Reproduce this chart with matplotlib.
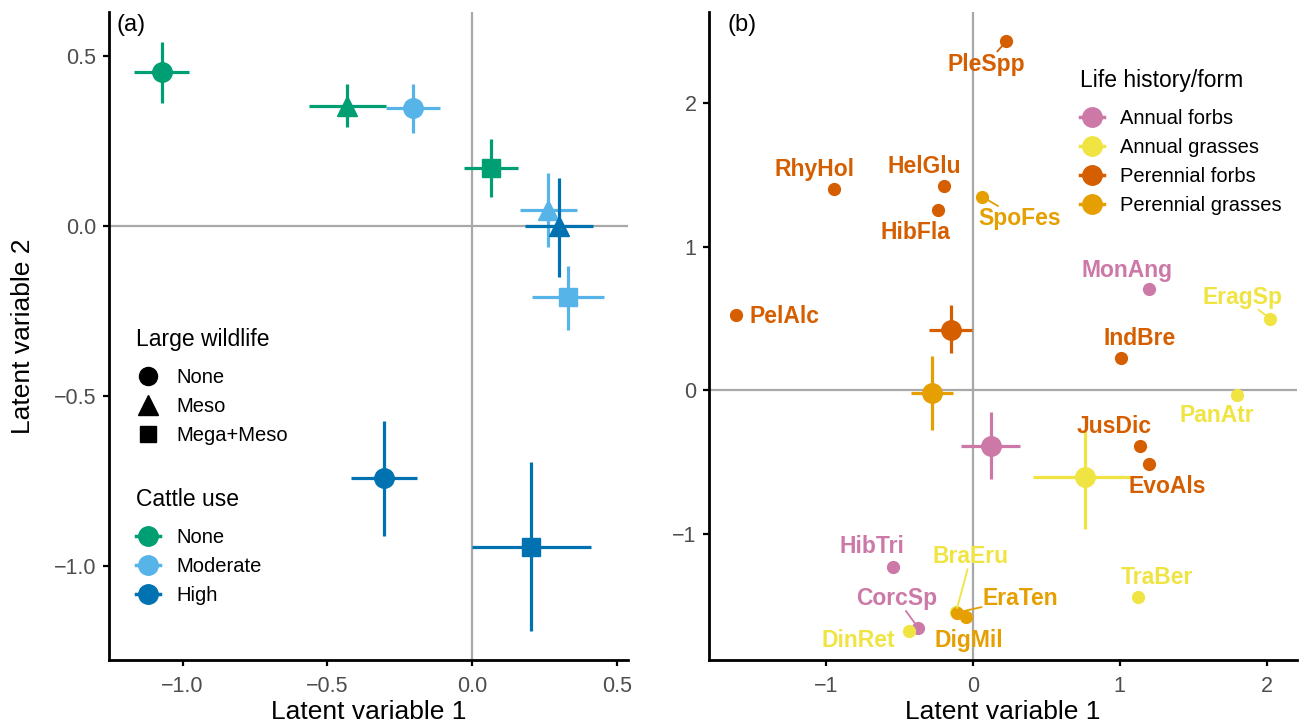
import matplotlib.pyplot as plt
from matplotlib.lines import Line2D

plt.rcParams['font.family'] = ['Liberation Sans', 'DejaVu Sans']

# ---- panel (a): treatment means on the two latent variables ----
wildlife = ['None', 'Meso', 'None', 'Mega+Meso', 'Meso', 'Meso', 'Mega+Meso', 'None', 'Mega+Meso']
cattle = ['None', 'None', 'Moderate', 'None', 'Moderate', 'High', 'Moderate', 'High', 'High']
lv1 = [-1.072, -0.431, -0.204, 0.064, 0.262, 0.299, 0.330, -0.305, 0.202]
lv1_lo = [-1.169, -0.565, -0.297, -0.029, 0.163, 0.183, 0.206, -0.419, 0.000]
lv1_hi = [-0.977, -0.297, -0.111, 0.157, 0.361, 0.417, 0.455, -0.190, 0.408]
lv2 = [0.455, 0.355, 0.348, 0.172, 0.047, 0.000, -0.210, -0.743, -0.944]
lv2_lo = [0.362, 0.293, 0.276, 0.085, -0.062, -0.151, -0.307, -0.912, -1.192]
lv2_hi = [0.544, 0.418, 0.420, 0.257, 0.157, 0.143, -0.116, -0.574, -0.696]

wildlife_levels = ['None', 'Meso', 'Mega+Meso']
cattle_levels = ['None', 'Moderate', 'High']

# ---- panel (b): species loadings ----
species = ['PleSpp', 'RhyHol', 'HelGlu', 'HibFla', 'SpoFes', 'MonAng', 'EragSp', 'PelAlc',
           'IndBre', 'PanAtr', 'JusDic', 'EvoAls', 'HibTri', 'CorcSp', 'DinRet', 'BraEru',
           'EraTen', 'DigMil', 'TraBer']
form = ['Perennial forbs', 'Perennial forbs', 'Perennial forbs', 'Perennial forbs',
        'Perennial grasses', 'Annual forbs', 'Annual grasses', 'Perennial forbs',
        'Perennial forbs', 'Annual grasses', 'Perennial forbs', 'Perennial forbs',
        'Annual forbs', 'Annual forbs', 'Annual grasses', 'Annual grasses',
        'Perennial grasses', 'Perennial grasses', 'Annual grasses']
sp_x = [0.226, -0.946, -0.200, -0.241, 0.065, 1.198, 2.025, -1.613, 1.011, 1.797, 1.136,
        1.198, -0.542, -0.372, -0.433, -0.115, -0.108, -0.045, 1.123]
sp_y = [2.430, 1.400, 1.423, 1.256, 1.347, 0.702, 0.498, 0.523, 0.226, -0.030, -0.386,
        -0.512, -1.233, -1.655, -1.678, -1.545, -1.549, -1.580, -1.441]
lab_x = [0.091, -1.076, -0.329, -0.389, 0.319, 1.050, 1.833, -1.283, 1.136, 1.659, 0.959,
         1.322, -0.687, -0.519, -0.778, -0.013, 0.324, -0.026, 1.250]
lab_y = [2.272, 1.540, 1.558, 1.098, 1.195, 0.837, 0.649, 0.516, 0.358, -0.177, -0.251,
         -0.670, -1.088, -1.449, -1.740, -1.158, -1.449, -1.740, -1.303]
lab_seg = [True, False, False, False, True, False, True, False, False, False, False,
           False, False, True, False, True, True, False, False]

forms = ['Annual forbs', 'Annual grasses', 'Perennial forbs', 'Perennial grasses']
g_x = [0.122, 0.765, -0.150, -0.280]
g_x_lo = [-0.083, 0.410, -0.298, -0.423]
g_x_hi = [0.319, 1.076, -0.003, -0.137]
g_y = [-0.386, -0.607, 0.423, -0.019]
g_y_lo = [-0.616, -0.967, 0.260, -0.279]
g_y_hi = [-0.153, -0.286, 0.591, 0.237]

cattle_col = {'None': '#009E73', 'Moderate': '#56B4E9', 'High': '#0072B2'}
wild_mark = {'None': ('o', 14), 'Meso': ('^', 15), 'Mega+Meso': ('s', 13)}
form_col = {'Annual forbs': '#CC79A7', 'Annual grasses': '#F0E442',
            'Perennial forbs': '#D55E00', 'Perennial grasses': '#E69F00'}
ref_col = '#A8A8A8'
tick_col = '#4D4D4D'

fig = plt.figure(figsize=(12.99, 7.25), dpi=100)
ax1 = fig.add_axes([109 / 1299, 65 / 725, 519 / 1299, 648 / 725])
ax2 = fig.add_axes([709 / 1299, 65 / 725, 588 / 1299, 648 / 725])


def style(ax):
    for s in ['top', 'right']:
        ax.spines[s].set_visible(False)
    for s in ['left', 'bottom']:
        ax.spines[s].set_linewidth(2.0)
    ax.tick_params(width=1.6, length=4, labelsize=15.5, labelcolor=tick_col)
    ax.tick_params(axis='x', pad=7.5)
    ax.tick_params(axis='y', pad=5)
    ax.axhline(0, color=ref_col, lw=1.6, zorder=0)
    ax.axvline(0, color=ref_col, lw=1.6, zorder=0)


def add_legend(ax, handles, labels, title, anchor):
    leg = ax.legend(handles, labels, title=title, loc='upper left', bbox_to_anchor=anchor,
                    frameon=False, fontsize=14.5, title_fontsize=16.5, borderpad=0,
                    borderaxespad=0, handlelength=1.2, handletextpad=0.8,
                    labelspacing=0.5, alignment='left')
    leg._legend_box.sep = 12  # a bit more room under the title
    return leg


# panel (a)
style(ax1)
for i in range(len(lv1)):
    m, ms = wild_mark[wildlife[i]]
    c = cattle_col[cattle[i]]
    ax1.errorbar(lv1[i], lv2[i],
                 xerr=[[lv1[i] - lv1_lo[i]], [lv1_hi[i] - lv1[i]]],
                 yerr=[[lv2[i] - lv2_lo[i]], [lv2_hi[i] - lv2[i]]],
                 fmt=m, ms=ms, color=c, mec=c, elinewidth=2.3, capsize=0, zorder=3)
ax1.set_xlim(-1.254, 0.537)
ax1.set_ylim(-1.278, 0.631)
ax1.set_xticks([-1.0, -0.5, 0.0, 0.5])
ax1.set_yticks([-1.0, -0.5, 0.0, 0.5])
ax1.set_xlabel('Latent variable 1', fontsize=19, labelpad=2.5)
ax1.set_ylabel('Latent variable 2', fontsize=19, labelpad=13.5)
ax1.text(0.015, 0.997, '(a)', transform=ax1.transAxes, fontsize=17, va='top', ha='left')

shape_handles = [Line2D([], [], ls='none', marker=wild_mark[w][0], ms=wild_mark[w][1] - 1,
                        color='black') for w in wildlife_levels]
leg1 = add_legend(ax1, shape_handles, wildlife_levels, 'Large wildlife', (0.052, 0.512))
ax1.add_artist(leg1)
col_handles = [Line2D([], [], color=cattle_col[c], marker='o', ms=14, lw=2.5)
               for c in cattle_levels]
add_legend(ax1, col_handles, cattle_levels, 'Cattle use', (0.052, 0.265))

# panel (b)
style(ax2)
for i in range(len(species)):
    ax2.plot(sp_x[i], sp_y[i], 'o', ms=8.5, color=form_col[form[i]], zorder=3)
for i in range(len(forms)):
    c = form_col[forms[i]]
    ax2.errorbar(g_x[i], g_y[i],
                 xerr=[[g_x[i] - g_x_lo[i]], [g_x_hi[i] - g_x[i]]],
                 yerr=[[g_y[i] - g_y_lo[i]], [g_y_hi[i] - g_y[i]]],
                 fmt='o', ms=14, color=c, elinewidth=2.3, capsize=0, zorder=4)
for i in range(len(species)):
    c = form_col[form[i]]
    if lab_seg[i]:
        ax2.annotate(species[i], xy=(sp_x[i], sp_y[i]), xytext=(lab_x[i], lab_y[i]),
                     color=c, fontsize=16.5, fontweight='bold', ha='center', va='center',
                     bbox=dict(boxstyle='square,pad=0.05', fc='none', ec='none'),
                     arrowprops=dict(arrowstyle='-', color=c, lw=1.3, shrinkA=0, shrinkB=3),
                     zorder=5)
    else:
        ax2.text(lab_x[i], lab_y[i], species[i], color=c, fontsize=16.5, fontweight='bold',
                 ha='center', va='center', zorder=5)
ax2.set_xlim(-1.797, 2.207)
ax2.set_ylim(-1.879, 2.635)
ax2.set_xticks([-1, 0, 1, 2])
ax2.set_yticks([-1, 0, 1, 2])
ax2.set_xlabel('Latent variable 1', fontsize=19, labelpad=2.5)
ax2.text(0.031, 0.997, '(b)', transform=ax2.transAxes, fontsize=17, va='top', ha='left')

form_handles = [Line2D([], [], color=form_col[f], marker='o', ms=14, lw=2.5) for f in forms]
add_legend(ax2, form_handles, forms, 'Life history/form', (0.631, 0.912))

fig.savefig('out.png', dpi=100)
